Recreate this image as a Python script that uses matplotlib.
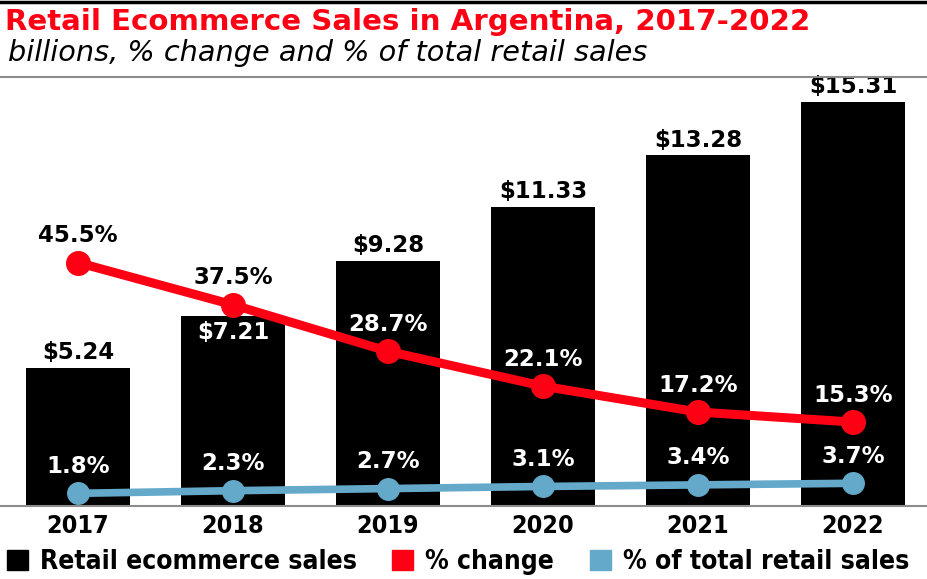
import matplotlib.pyplot as plt
from matplotlib.lines import Line2D
from matplotlib.patches import Patch
import numpy as np

years = ["2017", "2018", "2019", "2020", "2021", "2022"]
sales = [5.24, 7.21, 9.28, 11.33, 13.28, 15.31]
pct_change = [45.5, 37.5, 28.7, 22.1, 17.2, 15.3]
pct_total = [1.8, 2.3, 2.7, 3.1, 3.4, 3.7]

RED = "#fe0014"
BLUE = "#64a9c9"
GRAY = "#8c8c8c"

W, H = 927, 579
fig = plt.figure(figsize=(W / 100, H / 100), dpi=100)

# plot area: baseline at y=506px, full width
ax = fig.add_axes([0, (H - 506) / H, 1, (506 - 85) / H])
x = np.arange(len(years))
ymax = 421 / 26.4
ax.bar(x, sales, width=0.665, color="black", zorder=1)
ax.set_xlim(-78 / 155, (W - 78) / 155)
ax.set_ylim(0, ymax)

ax2 = ax.twinx()
ratio = 5.0
ax2.set_ylim(-0.6, ymax * ratio - 0.6)
ax2.plot(x, pct_change, color=RED, lw=6.5, marker="o", ms=17, zorder=3,
         solid_capstyle="round")
ax2.plot(x, pct_total, color=BLUE, lw=5.5, marker="o", ms=15.5, zorder=3,
         solid_capstyle="round")

for a in (ax, ax2):
    for s in ("top", "left", "right"):
        a.spines[s].set_visible(False)
    a.set_yticks([])
ax.spines["bottom"].set_color(GRAY)
ax.spines["bottom"].set_linewidth(1.5)
ax2.spines["bottom"].set_visible(False)

ax.set_xticks(x)
ax.set_xticklabels(years, fontsize=18, fontweight="bold",
                   fontstretch="condensed")
ax.tick_params(axis="x", length=0, pad=6)

label_font = dict(fontsize=16.5, fontweight="bold", ha="center", va="center")

# bar value labels: above the bar, or inside when the red line crowds it
for i, v in enumerate(sales):
    line_y = pct_change[i] / ratio
    if line_y > v - 0.2 and line_y < v + 1.6:
        ax.text(x[i], v - 0.65, f"${v:.2f}", color="white", zorder=5,
                **label_font)
    else:
        ax.text(x[i], v + 0.57, f"${v:.2f}", color="black", zorder=5,
                **label_font)

# percent labels sit above the markers; white when over a bar
for series in (pct_change, pct_total):
    for i, v in enumerate(series):
        ty = v + 5.1
        on_bar = (ty - 0.6) / ratio < sales[i]
        ax2.text(x[i], ty, f"{v:.1f}%", color="white" if on_bar else "black",
                 zorder=5, **label_font)

# header
fig.text(5 / W, 1 - 30 / H, "Retail Ecommerce Sales in Argentina, 2017-2022",
         color=RED, fontsize=21.1, fontweight="heavy", va="baseline")
fig.text(8 / W, 1 - 61 / H, "billions, % change and % of total retail sales",
         color="black", fontsize=20.7, style="italic", va="baseline")
fig.add_artist(Line2D([0, 1], [1 - 2 / H, 1 - 2 / H], color="black", lw=2.5))
fig.add_artist(Line2D([0, 1], [1 - 77 / H, 1 - 77 / H], color=GRAY, lw=1.5))

handles = [Patch(color="black", label="Retail ecommerce sales"),
           Patch(color=RED, label="% change"),
           Patch(color=BLUE, label="% of total retail sales")]
fig.legend(handles=handles, loc="center left", ncol=3, frameon=False,
           bbox_to_anchor=(0, 1 - 562 / H), handlelength=0.8,
           handleheight=0.8, handletextpad=0.45, columnspacing=1.35,
           borderaxespad=0, borderpad=0.25,
           prop=dict(size=19, weight="bold", stretch="condensed"))

fig.savefig("out.png", dpi=100)
